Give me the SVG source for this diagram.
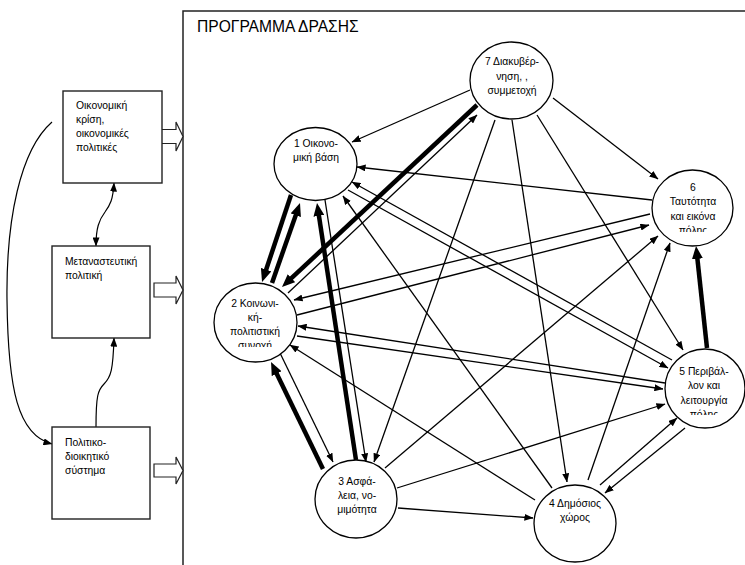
<svg xmlns="http://www.w3.org/2000/svg" width="745" height="565" viewBox="0 0 745 565">
<style>
.t{font-family:"Liberation Sans",Arial,sans-serif;font-size:11.5px;fill:#000}
.tm{text-anchor:middle}
.n{fill:#fff;stroke:#000;stroke-width:1.3}
.b{fill:#fff;stroke:#222;stroke-width:1.4}
.c{fill:none;stroke:#000;stroke-width:1.3;marker-end:url(#a)}
.k{fill:none;stroke:#000;stroke-width:4.5;marker-end:url(#ak)}
.h{fill:#fff;stroke:#222;stroke-width:1.2}
</style>
<defs>
<marker id="a" viewBox="0 0 9 7" refX="8.6" refY="3.5" markerWidth="9" markerHeight="7" markerUnits="userSpaceOnUse" orient="auto"><path d="M0,0 L9,3.5 L0,7 z" fill="#000"/></marker>
<marker id="as" viewBox="0 0 9 7" refX="8.6" refY="3.5" markerWidth="9" markerHeight="7" markerUnits="userSpaceOnUse" orient="auto-start-reverse"><path d="M0,0 L9,3.5 L0,7 z" fill="#000"/></marker>
<marker id="ak" viewBox="0 0 13 11" refX="3" refY="5.5" markerWidth="13" markerHeight="11" markerUnits="userSpaceOnUse" orient="auto"><path d="M0,0 L13,5.5 L0,11 z" fill="#000"/></marker>
<clipPath id="c2"><rect x="200" y="270" width="120" height="77"/></clipPath>
<clipPath id="c6"><rect x="640" y="160" width="105" height="72"/></clipPath>
<clipPath id="c5"><rect x="650" y="340" width="95" height="75"/></clipPath>
</defs>
<rect width="745" height="565" fill="#fff"/>
<rect x="183" y="11" width="600" height="600" fill="none" stroke="#222" stroke-width="1.5"/>
<text class="t" x="197" y="32" style="font-size:15.6px">ΠΡΟΓΡΑΜΜΑ ΔΡΑΣΗΣ</text>

<g id="left-connectors">
<path d="M114,183 C113,200 110,205 105,212 C99,220 96,228 96,246" fill="none" stroke="#000" stroke-width="1.2" marker-start="url(#as)" marker-end="url(#as)"/>
<path d="M96,427 C96,395 98,390 104,384 C111,377 113,370 114,338" fill="none" stroke="#000" stroke-width="1.2" marker-end="url(#a)"/>
<path d="M52,122 C20,150 6,220 7,300 C8,390 18,435 52,444" fill="none" stroke="#000" stroke-width="1.2" marker-end="url(#a)"/>
<path class="h" d="M154,129.5 H176 V122 L183,136.5 L176,151 V143.5 H154 Z"/>
<path class="h" d="M154,283 H176 V276 L183,290 L176,304 V297 H154 Z"/>
<path class="h" d="M154,464 H176 V457 L183,470.5 L176,484 V477 H154 Z"/>
</g>

<g id="box-economy">
<rect class="b" x="63" y="91" width="99" height="92"/>
<g transform="matrix(0.9 0 0 1 7.6 0)">
<text class="t" x="76" y="109">Οικονομική</text>
<text class="t" x="76" y="123">κρίση,</text>
<text class="t" x="76" y="137">οικονομικές</text>
<text class="t" x="76" y="151">πολιτικές</text>
</g>
</g>
<g id="box-migration">
<rect class="b" x="52" y="246" width="98" height="92"/>
<g transform="matrix(0.9 0 0 1 6.5 0)">
<text class="t" x="65" y="265">Μεταναστευτική</text>
<text class="t" x="65" y="279">πολιτική</text>
</g>
</g>
<g id="box-political">
<rect class="b" x="52" y="427" width="98" height="92"/>
<g transform="matrix(0.9 0 0 1 6.5 0)">
<text class="t" x="65" y="446">Πολιτικο-</text>
<text class="t" x="65" y="460">διοικητικό</text>
<text class="t" x="65" y="474">σύστημα</text>
</g>
</g>

<g id="connectors">
<path class="k" d="M291,195 L265.2,272.5"/>
<path class="k" d="M272,283 L296.7,212.4"/>
<path class="k" d="M356,460 L318.5,212.9"/>
<path class="k" d="M323,469 L275.4,371"/>
<path class="k" d="M477,105 L289.3,280.2"/>
<path class="k" d="M707,348 L697.1,255.9"/>
<path class="c" d="M325,200 L366,462"/>
<path class="c" d="M280,353 L333,462"/>
<path class="c" d="M288,293 L477,115"/>
<path class="c" d="M470,90 L352,142"/>
<path class="c" d="M652,200 L357,167"/>
<path class="c" d="M672,360 L352,182"/>
<path class="c" d="M348,190 L668,368"/>
<path class="c" d="M552,488 L343,196"/>
<path class="c" d="M553,98 L658,179"/>
<path class="c" d="M537,115 L683,350"/>
<path class="c" d="M512,120 L567,482"/>
<path class="c" d="M495,120 L374,462"/>
<path class="c" d="M650,214 L294,300"/>
<path class="c" d="M297,315 L649,225"/>
<path class="c" d="M665,383 L298,326"/>
<path class="c" d="M297,336 L663,389"/>
<path class="c" d="M535,500 L290,345"/>
<path class="c" d="M385,468 L658,236"/>
<path class="c" d="M588,480 L670,243"/>
<path class="c" d="M397,488 L665,404"/>
<path class="c" d="M398,508 L533,518"/>
<path class="c" d="M600,485 L677,418"/>
<path class="c" d="M685,428 L605,493"/>
</g>

<g id="node7">
<ellipse class="n" cx="511.5" cy="80.5" rx="41.5" ry="38.5"/>
<g transform="matrix(0.9 0 0 1 51.2 0)">
<text class="t tm" x="512" y="65.5">7 Διακυβέρ-</text>
<text class="t tm" x="512" y="80">νηση, ,</text>
<text class="t tm" x="512" y="94.5">συμμετοχή</text>
</g>
</g>
<g id="node1">
<ellipse class="n" cx="315.5" cy="164" rx="41.5" ry="36.5"/>
<g transform="matrix(0.9 0 0 1 31.6 0)">
<text class="t tm" x="316" y="147">1 Οικονο-</text>
<text class="t tm" x="316" y="161.5">μική βάση</text>
</g>
</g>
<g id="node2">
<ellipse class="n" cx="255.5" cy="322.5" rx="41.5" ry="39.5"/>
<g clip-path="url(#c2)">
<g transform="matrix(0.9 0 0 1 25.5 0)">
<text class="t tm" x="255" y="307">2 Κοινωνι-</text>
<text class="t tm" x="255" y="321">κή-</text>
<text class="t tm" x="255" y="335">πολιτιστική</text>
<text class="t tm" x="255" y="349.5">συνοχή</text>
</g>
</g>
</g>
<g id="node6">
<ellipse class="n" cx="692.5" cy="208" rx="40.5" ry="38"/>
<g clip-path="url(#c6)">
<g transform="matrix(0.9 0 0 1 69.3 0)">
<text class="t tm" x="693" y="191">6</text>
<text class="t tm" x="693" y="205.5">Ταυτότητα</text>
<text class="t tm" x="693" y="220">και εικόνα</text>
<text class="t tm" x="693" y="234.5">πόλης</text>
</g>
</g>
</g>
<g id="node5">
<ellipse class="n" cx="705" cy="388.5" rx="40" ry="39.5"/>
<g clip-path="url(#c5)">
<g transform="matrix(0.9 0 0 1 70.4 0)">
<text class="t tm" x="704" y="375">5 Περιβάλ-</text>
<text class="t tm" x="704" y="389.3">λον και</text>
<text class="t tm" x="704" y="403.6">λειτουργία</text>
<text class="t tm" x="704" y="418">πόλης</text>
</g>
</g>
</g>
<g id="node3">
<ellipse class="n" cx="356" cy="499" rx="41" ry="39"/>
<g transform="matrix(0.9 0 0 1 35.7 0)">
<text class="t tm" x="357" y="485">3 Ασφά-</text>
<text class="t tm" x="357" y="499">λεια, νο-</text>
<text class="t tm" x="357" y="513.3">μιμότητα</text>
</g>
</g>
<g id="node4">
<ellipse class="n" cx="575" cy="523.5" rx="41" ry="38.5"/>
<g transform="matrix(0.9 0 0 1 57.5 0)">
<text class="t tm" x="575" y="506.7">4 Δημόσιος</text>
<text class="t tm" x="575" y="520.7">χώρος</text>
</g>
</g>
</svg>
